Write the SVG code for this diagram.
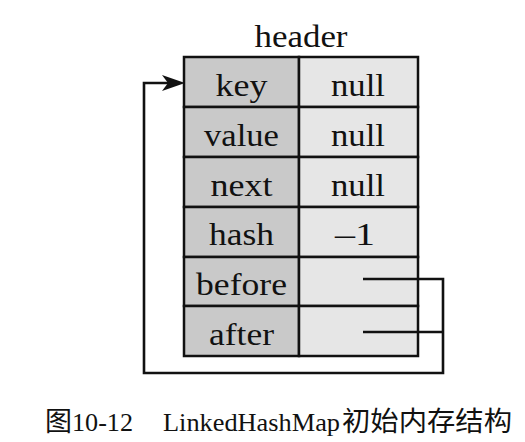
<svg xmlns="http://www.w3.org/2000/svg" width="525" height="442" viewBox="0 0 525 442">
<style>
.k{fill:#c9c9c9;stroke:#111;stroke-width:2.5}
.v{fill:#e6e6e6;stroke:#111;stroke-width:2.5}
.t{font-family:"Liberation Serif","Times New Roman",serif;font-size:31px;fill:#111;text-anchor:middle}
.cap{font-family:"Liberation Serif","Noto Sans CJK SC",serif;font-size:26px;fill:#111}
.cj{font-family:"Noto Sans CJK SC",sans-serif;font-size:27px}
.ln{fill:none;stroke:#111;stroke-width:2.6}
</style>
<rect width="525" height="442" fill="#fff"/>
<text class="t" x="301" y="47" textLength="93" lengthAdjust="spacingAndGlyphs">header</text>
<g id="header">
<g id="row-key"><rect class="k" x="184" y="57" width="115" height="50"/><rect class="v" x="299" y="57" width="119" height="50"/>
<text class="t" x="241.5" y="96" textLength="52" lengthAdjust="spacingAndGlyphs">key</text><text class="t" x="358" y="96" textLength="54" lengthAdjust="spacingAndGlyphs">null</text></g>
<g id="row-value"><rect class="k" x="184" y="107" width="115" height="50"/><rect class="v" x="299" y="107" width="119" height="50"/>
<text class="t" x="241.5" y="146" textLength="75" lengthAdjust="spacingAndGlyphs">value</text><text class="t" x="358" y="146" textLength="54" lengthAdjust="spacingAndGlyphs">null</text></g>
<g id="row-next"><rect class="k" x="184" y="157" width="115" height="50"/><rect class="v" x="299" y="157" width="119" height="50"/>
<text class="t" x="241.5" y="196" textLength="62" lengthAdjust="spacingAndGlyphs">next</text><text class="t" x="358" y="196" textLength="54" lengthAdjust="spacingAndGlyphs">null</text></g>
<g id="row-hash"><rect class="k" x="184" y="207" width="115" height="50"/><rect class="v" x="299" y="207" width="119" height="50"/>
<text class="t" x="241.5" y="245" textLength="65" lengthAdjust="spacingAndGlyphs">hash</text><text class="t" x="355" y="245" textLength="40" lengthAdjust="spacingAndGlyphs">–1</text></g>
<g id="row-before"><rect class="k" x="184" y="257" width="115" height="49"/><rect class="v" x="299" y="257" width="119" height="49"/>
<text class="t" x="241.5" y="295" textLength="91" lengthAdjust="spacingAndGlyphs">before</text></g>
<g id="row-after"><rect class="k" x="184" y="306" width="115" height="50"/><rect class="v" x="299" y="306" width="119" height="50"/>
<text class="t" x="241.5" y="345" textLength="65" lengthAdjust="spacingAndGlyphs">after</text></g>
</g>
<g id="connectors">
<polyline class="ln" points="363,279 443,279 443,373 144,373 144,83 170,83"/>
<line class="ln" x1="363" y1="332" x2="443" y2="332"/>
<polygon points="185,83 162,75 168,83 162,91" fill="#111"/>
</g>
<text class="cap" x="45" y="431"><tspan class="cj">图</tspan><tspan x="72" textLength="61" lengthAdjust="spacingAndGlyphs">10-12</tspan><tspan x="163" textLength="177" lengthAdjust="spacingAndGlyphs">LinkedHashMap</tspan><tspan class="cj" x="342" textLength="170" lengthAdjust="spacingAndGlyphs">初始内存结构</tspan></text>
</svg>
